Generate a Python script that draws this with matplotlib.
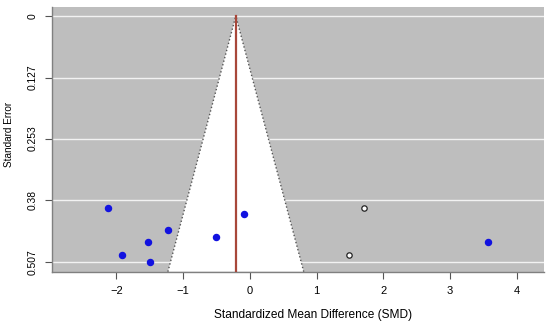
import matplotlib
matplotlib.use("Agg")
import matplotlib.pyplot as plt
import numpy as np

plt.rcParams['font.family'] = ['Liberation Sans', 'DejaVu Sans']

# observed studies
smd = [-2.13, -1.91, -1.53, -1.50, -1.22, -0.50, -0.08, 3.57]
se = [0.397, 0.494, 0.466, 0.507, 0.442, 0.457, 0.409, 0.466]
# imputed (trim-and-fill) studies
smd_fill = [1.71, 1.49]
se_fill = [0.397, 0.494]
# pooled estimate
center = -0.21
xticks = [-2, -1, 0, 1, 2, 3, 4]
yticks = [0, 0.127, 0.253, 0.38, 0.507]
ytick_labels = ["0", "0.127", "0.253", "0.38", "0.507"]

W, H = 550, 323
fig = plt.figure(figsize=(W / 100, H / 100), dpi=100)
ax = fig.add_axes([51.7 / W, 1 - 271.7 / H, (544 - 51.7) / W, (271.7 - 6.7) / H])
ax.set_facecolor('#BEBEBE')

xlim = (-2.97, 4.41)
ylim = (0.5276, -0.0192)
ax.set_xlim(*xlim)
ax.set_ylim(*ylim)

# grid lines
for t in yticks:
    ax.axhline(t, color='#F2F2F2', lw=1.0, zorder=1)

# funnel region
ymax = ylim[0]
z = 1.93
poly_x = [center - z * ymax, center, center + z * ymax]
poly_y = [ymax, 0, ymax]
ax.fill(poly_x, poly_y, color='white', zorder=2, lw=0)
ax.plot([center - z * ymax, center], [ymax, 0], ls=':', color='#555555', lw=1, zorder=3)
ax.plot([center + z * ymax, center], [ymax, 0], ls=':', color='#555555', lw=1, zorder=3)

# pooled estimate line
ax.plot([center, center], [ymax, 0], color='#A8473A', lw=1.6, zorder=4)

# points
ax.scatter(smd, se, s=19, color='#1212E0', edgecolors='#1212E0', zorder=5)
ax.scatter(smd_fill, se_fill, s=15, facecolors='white', edgecolors='#222222', linewidths=0.9, zorder=5)

for side in ['top', 'right']:
    ax.spines[side].set_visible(False)
for side in ['left', 'bottom']:
    ax.spines[side].set_color('#808080')
    ax.spines[side].set_linewidth(1.0)

ax.set_xticks(xticks)
ax.set_xticklabels([("\u2212" + str(-t)) if t < 0 else str(t) for t in xticks], fontsize=8)
ax.set_yticks(yticks)
ax.set_yticklabels(ytick_labels, fontsize=7.4, rotation=90, va='center')
ax.tick_params(axis='x', length=5, width=0.8, color='#555555', pad=5)
ax.tick_params(axis='y', length=5, width=0.8, color='#555555', pad=5)

fig.text(313.5 / W, 1 - 315 / H, "Standardized Mean Difference (SMD)", fontsize=8.6,
         ha='center', va='center')
fig.text(9 / W, 1 - 134 / H, "Standard Error", fontsize=7.2, rotation=90,
         ha='center', va='center')

fig.savefig("out.png", dpi=100)
